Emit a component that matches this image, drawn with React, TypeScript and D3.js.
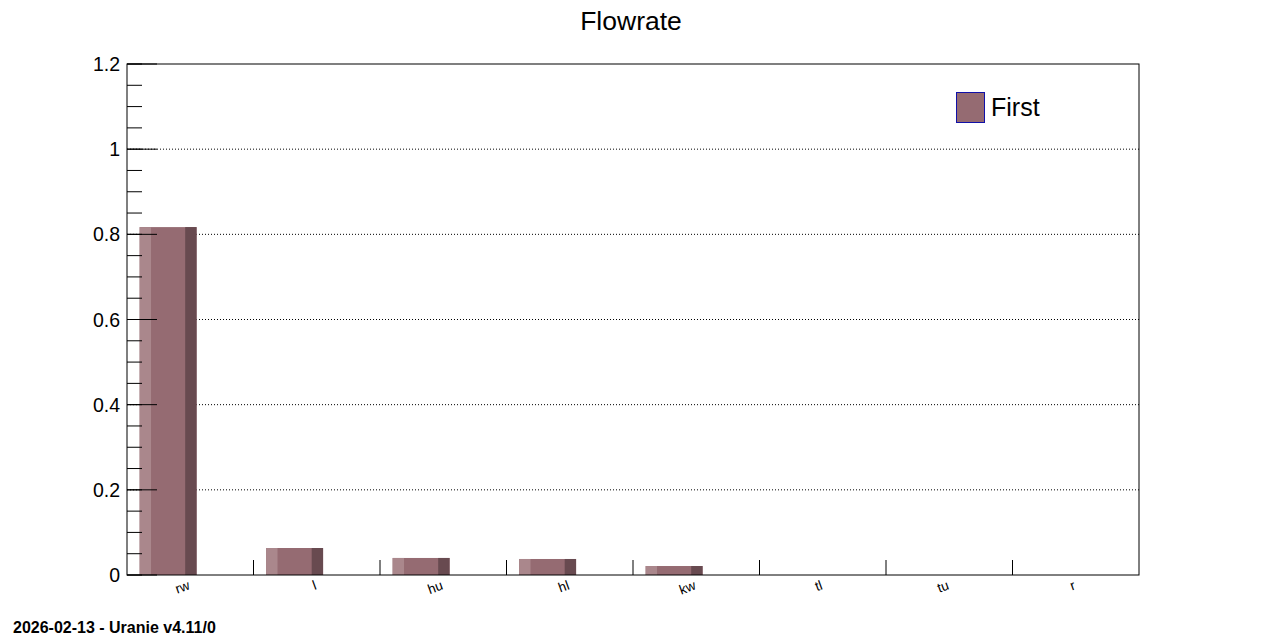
import React from "react";
import * as d3 from "d3";

const categories = ["rw", "l", "hu", "hl", "kw", "tl", "tu", "r"];
const values = [0.817, 0.0634, 0.04, 0.0376, 0.0211, 0, 0, 0];
const yMajorTicks = [0, 0.2, 0.4, 0.6, 0.8, 1, 1.2];
const yTickLabels = ["0", "0.2", "0.4", "0.6", "0.8", "1", "1.2"];
const yMinorTicks = d3.range(0, 1.2001, 0.05);
const gridValues = [0.2, 0.4, 0.6, 0.8, 1];
const seriesName = "First";
const title = "Flowrate";
const footer = "2026-02-13 - Uranie v4.11/0";

const W = 1266;
const H = 639;
const left = 127;
const right = 1139;
const top = 64;
const bottom = 575;
const font = "'Liberation Sans', Arial, Helvetica, sans-serif";

const colMid = "#956b72";
const colLight = "#aa878c";
const colDark = "#684a50";

export default function App() {
  const x = d3.scaleLinear().domain([0, categories.length]).range([left, right]);
  const y = d3.scaleLinear().domain([0, 1.2]).range([bottom, top]);
  const binW = x(1) - x(0);

  return (
    <svg width={W} height={H} style={{ position: "absolute", left: 0, top: 0, background: "#fff" }}>
      <rect x={0} y={0} width={W} height={H} fill="#fff" />
      {/* grid */}
      {gridValues.map((v) => (
        <line key={"g" + v} x1={left} x2={right} y1={y(v)} y2={y(v)} stroke="#000" strokeWidth={1} strokeDasharray="1,2" />
      ))}
      {/* bars */}
      {values.map((v, i) => {
        if (v <= 0) return null;
        const x0 = x(i) + binW * 0.1;
        const bw = binW * 0.45;
        const yt = y(v);
        const h = bottom - yt;
        const side = bw * 0.2;
        return (
          <g key={"b" + i}>
            <rect x={x0} y={yt} width={bw} height={h} fill={colMid} />
            <rect x={x0} y={yt} width={side} height={h} fill={colLight} />
            <rect x={x0 + bw - side} y={yt} width={side} height={h} fill={colDark} />
          </g>
        );
      })}
      {/* frame */}
      <rect x={left} y={top} width={right - left} height={bottom - top} fill="none" stroke="#000" strokeWidth={1} />
      {/* y ticks */}
      {yMinorTicks.map((v, i) => (
        <line key={"m" + i} x1={left} x2={left + 15} y1={y(v)} y2={y(v)} stroke="#000" strokeWidth={1} />
      ))}
      {yMajorTicks.map((v) => (
        <line key={"M" + v} x1={left} x2={left + 30} y1={y(v)} y2={y(v)} stroke="#000" strokeWidth={1} />
      ))}
      {yMajorTicks.map((v, i) => (
        <text key={"l" + v} x={120} y={y(v) + 7} textAnchor="end" fontFamily={font} fontSize={19.5} fill="#000">
          {yTickLabels[i]}
        </text>
      ))}
      {/* x bin ticks */}
      {d3.range(1, categories.length).map((i) => (
        <line key={"xt" + i} x1={x(i)} x2={x(i)} y1={bottom} y2={bottom - 15} stroke="#000" strokeWidth={1} />
      ))}
      {categories.map((c, i) => {
        const cx = x(i + 0.5) + 0.5;
        return (
          <text
            key={"c" + c}
            x={cx}
            y={589}
            textAnchor="end"
            fontFamily={font}
            fontSize={13.5}
            fill="#000"
            transform={`rotate(-20, ${cx}, 589)`}
          >
            {c}
          </text>
        );
      })}
      {/* title */}
      <text x={631} y={30} textAnchor="middle" fontFamily={font} fontSize={26.5} fill="#000">
        {title}
      </text>
      {/* legend */}
      <rect x={956.5} y={92.5} width={28} height={30} fill={colMid} stroke="#1010a8" strokeWidth={1} />
      <text x={991} y={116} fontFamily={font} fontSize={25} fill="#000">
        {seriesName}
      </text>
      {/* footer */}
      <text x={13} y={633} fontFamily={font} fontSize={16} fontWeight="bold" fill="#000">
        {footer}
      </text>
    </svg>
  );
}
